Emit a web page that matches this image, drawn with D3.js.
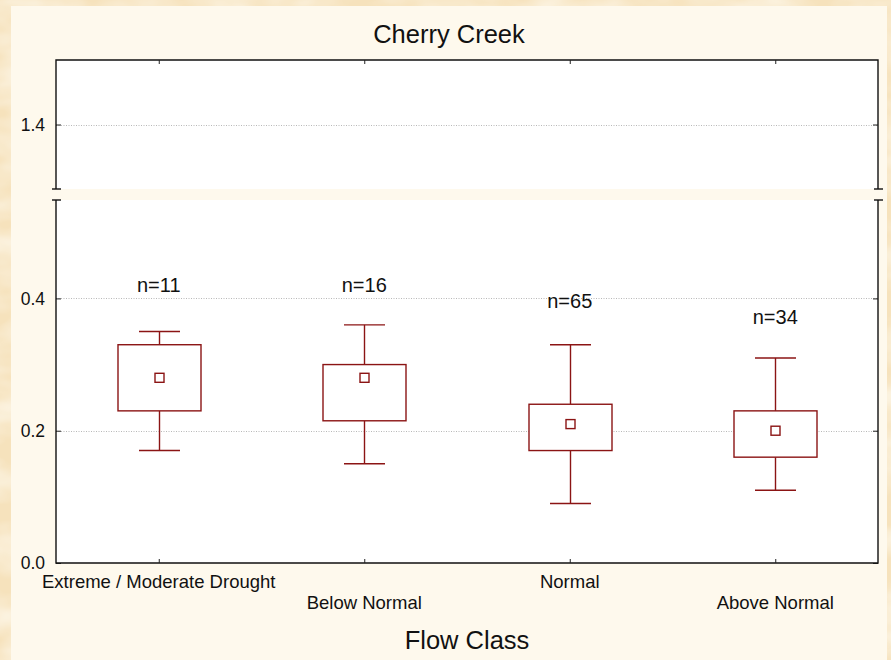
<!DOCTYPE html>
<html>
<head>
<meta charset="utf-8">
<script src="https://cdn.jsdelivr.net/npm/d3@7"></script>
<style>
  html, body { margin: 0; padding: 0; background: #f7e6c4; }
  svg { display: block; }
  text { font-family: "Liberation Sans", Arial, sans-serif; fill: #111; }
</style>
</head>
<body>
<svg id="chart" width="891" height="660"></svg>
<script>
// ---- data ----
const categories = ["Extreme / Moderate Drought", "Below Normal", "Normal", "Above Normal"];
const whiskerHigh = [0.35, 0.36, 0.33, 0.31];
const boxHigh     = [0.33, 0.30, 0.24, 0.23];
const medians     = [0.28, 0.28, 0.21, 0.20];
const boxLow      = [0.23, 0.215, 0.17, 0.16];
const whiskerLow  = [0.17, 0.15, 0.09, 0.11];
const counts      = [11, 16, 65, 34];
const countLabelY = [0.41, 0.41, 0.385, 0.362];
const lowerTicks  = [0.0, 0.2, 0.4];
const upperTicks  = [1.4];
const titleText = "Cherry Creek";
const xTitle = "Flow Class";

// ---- layout ----
const W = 891, H = 660;
const pLeft = 56, pRight = 878, pTop = 60, upperBottom = 189, lowerTop = 200, pBottom = 563;
const boxColor = "#8b1414";

const svg = d3.select("#chart");
const defs = svg.append("defs");
const f = defs.append("filter").attr("id", "paper").attr("x", 0).attr("y", 0).attr("width", 1).attr("height", 1);
f.append("feTurbulence").attr("type", "fractalNoise").attr("baseFrequency", "0.015 0.03").attr("numOctaves", 3).attr("seed", 7);
f.append("feColorMatrix").attr("type", "matrix")
  .attr("values", "0 0 0 0 1  0 0 0 0 0.98  0 0 0 0 0.92  1.4 0 0 0 -0.5");

svg.append("rect").attr("width", W).attr("height", H).attr("fill", "#f6e2bc");
svg.append("rect").attr("width", W).attr("height", H).attr("filter", "url(#paper)");
// inner panel
svg.append("rect").attr("x", 11).attr("y", 6).attr("width", 876).attr("height", H - 6).attr("fill", "#fef9ed");

const x = d3.scalePoint().domain(categories).range([pLeft, pRight]).padding(0.5);
const yLow = d3.scaleLinear().domain([0, 0.55]).range([pBottom, lowerTop - 0.8]);
const yHigh = d3.scaleLinear().domain([1.3, 1.5]).range([upperBottom, pTop]);

// plot backgrounds
svg.append("rect").attr("x", pLeft).attr("y", pTop).attr("width", pRight - pLeft).attr("height", upperBottom - pTop).attr("fill", "#fff");
svg.append("rect").attr("x", pLeft).attr("y", lowerTop).attr("width", pRight - pLeft).attr("height", pBottom - lowerTop).attr("fill", "#fff");

// grid lines
const grid = svg.append("g").attr("stroke", "#b8b8b8").attr("stroke-width", 1).attr("stroke-dasharray", "1,1.5");
grid.append("g").selectAll("line").data(upperTicks).join("line")
  .attr("x1", pLeft).attr("x2", pRight)
  .attr("y1", d => Math.round(yHigh(d)) + 0.5).attr("y2", d => Math.round(yHigh(d)) + 0.5);
grid.append("g").selectAll("line").data(lowerTicks.filter(d => d > 0)).join("line")
  .attr("x1", pLeft).attr("x2", pRight)
  .attr("y1", d => Math.round(yLow(d)) + 0.5).attr("y2", d => Math.round(yLow(d)) + 0.5);

// axes (inward ticks + labels)
const fmt = d3.format(".1f");
function yAxis(scale, ticks) {
  const gL = svg.append("g").attr("transform", `translate(${pLeft},0)`)
    .call(d3.axisRight(scale).tickValues(ticks).tickSize(5).tickFormat(""));
  gL.select(".domain").remove();
  gL.selectAll("line").attr("stroke", "#222");
  const gR = svg.append("g").attr("transform", `translate(${pRight},0)`)
    .call(d3.axisLeft(scale).tickValues(ticks).tickSize(5).tickFormat(""));
  gR.select(".domain").remove();
  gR.selectAll("line").attr("stroke", "#222");
  svg.append("g").selectAll("text").data(ticks).join("text")
    .attr("x", pLeft - 11).attr("y", d => scale(d)).attr("dy", "0.36em")
    .attr("text-anchor", "end").style("font-size", "17.5px").text(d => fmt(d));
}
yAxis(yHigh, upperTicks);
yAxis(yLow, lowerTicks);

// frame lines
const frame = svg.append("g").attr("stroke", "#111").attr("stroke-width", 1.4).attr("fill", "none");
frame.append("path").attr("d", `M${pLeft},${upperBottom}V${pTop}H${pRight}V${upperBottom}`);
frame.append("path").attr("d", `M${pLeft},${lowerTop}V${pBottom}H${pRight}V${lowerTop}`);
// break marks
const brk = svg.append("g").attr("stroke", "#111").attr("stroke-width", 1.4);
[upperBottom, lowerTop].forEach(yy => {
  brk.append("line").attr("x1", pLeft - 4).attr("x2", pLeft + 5).attr("y1", yy).attr("y2", yy);
  brk.append("line").attr("x1", pRight - 4).attr("x2", pRight + 5).attr("y1", yy).attr("y2", yy);
});

// x axis ticks (bottom & top, inward)
const gx = svg.append("g").attr("transform", `translate(0,${pBottom})`)
  .call(d3.axisTop(x).tickSize(4).tickFormat(""));
gx.select(".domain").remove();
gx.selectAll("line").attr("stroke", "#222");
const gxt = svg.append("g").attr("transform", `translate(0,${pTop})`)
  .call(d3.axisBottom(x).tickSize(4).tickFormat(""));
gxt.select(".domain").remove();
gxt.selectAll("line").attr("stroke", "#222");

// x labels (staggered)
svg.append("g").selectAll("text").data(categories).join("text")
  .attr("x", d => x(d)).attr("y", (d, i) => i % 2 === 0 ? 588 : 609)
  .attr("text-anchor", "middle").style("font-size", "18.5px").text(d => d);

// boxes
const boxW = 83, capW = 41, medS = 9;
const boxes = svg.append("g").attr("stroke", boxColor).attr("stroke-width", 1.4).attr("fill", "none");
categories.forEach((c, i) => {
  const cx = Math.round(x(c)) + 0.5;
  const g = boxes.append("g");
  g.append("line").attr("x1", cx).attr("x2", cx).attr("y1", yLow(whiskerHigh[i])).attr("y2", yLow(boxHigh[i]));
  g.append("line").attr("x1", cx).attr("x2", cx).attr("y1", yLow(boxLow[i])).attr("y2", yLow(whiskerLow[i]));
  g.append("line").attr("x1", cx - capW / 2).attr("x2", cx + capW / 2).attr("y1", yLow(whiskerHigh[i])).attr("y2", yLow(whiskerHigh[i]));
  g.append("line").attr("x1", cx - capW / 2).attr("x2", cx + capW / 2).attr("y1", yLow(whiskerLow[i])).attr("y2", yLow(whiskerLow[i]));
  g.append("rect").attr("x", cx - boxW / 2).attr("width", boxW)
    .attr("y", yLow(boxHigh[i])).attr("height", yLow(boxLow[i]) - yLow(boxHigh[i])).attr("fill", "#fff");
  g.append("rect").attr("x", cx - medS / 2).attr("width", medS)
    .attr("y", yLow(medians[i]) - medS / 2).attr("height", medS).attr("fill", "#fff");
});

// count labels
svg.append("g").selectAll("text").data(categories).join("text")
  .attr("x", d => x(d)).attr("y", (d, i) => yLow(countLabelY[i]))
  .attr("text-anchor", "middle").style("font-size", "20px").text((d, i) => "n=" + counts[i]);

// titles
svg.append("text").attr("x", 449).attr("y", 43).attr("text-anchor", "middle")
  .style("font-size", "25.5px").text(titleText);
svg.append("text").attr("x", (pLeft + pRight) / 2).attr("y", 649).attr("text-anchor", "middle")
  .style("font-size", "25.5px").text(xTitle);
</script>
</body>
</html>
